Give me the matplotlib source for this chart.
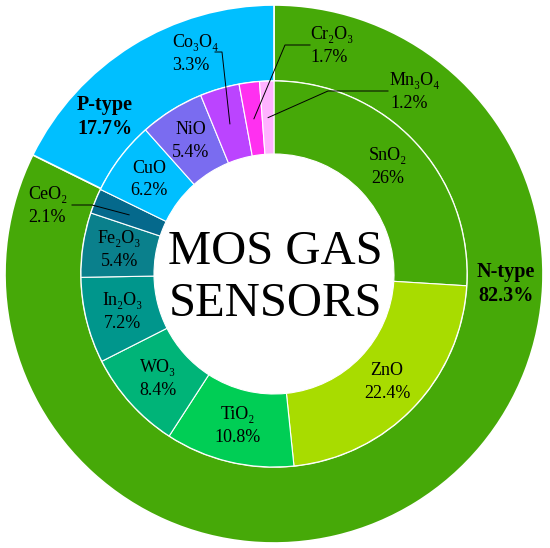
import numpy as np
import matplotlib
matplotlib.use('Agg')
import matplotlib.pyplot as plt

# Times-like face; DejaVu Serif covers the subscript digits if needed
SERIF = ['Liberation Serif', 'DejaVu Serif']
txt_kw = dict(family=SERIF, color='black')

# outer ring: semiconductor type
type_names = ['N-type', 'P-type']
type_pct = [82.3, 17.7]
type_colors = ['#46A908', '#00BFFF']

# inner ring: oxides (clockwise from top)
oxide_names = ['SnO₂', 'ZnO', 'TiO₂', 'WO₃', 'In₂O₃', 'Fe₂O₃', 'CeO₂',
               'CuO', 'NiO', 'Co₃O₄', 'Cr₂O₃', 'Mn₃O₄']
oxide_pct = [26, 22.4, 10.8, 8.4, 7.2, 5.4, 2.1, 6.2, 5.4, 3.3, 1.7, 1.2]
oxide_colors = ['#46A908', '#A8DC00', '#00CE55', '#00B478', '#00968C', '#0A808C', '#05698C',
                '#00BFFF', '#7A6CF0', '#BB44FF', '#FF30F0', '#FFB3FF']

# small slices that get a leader line: text anchor (left, centre y) and knee
callouts = {
    'CeO₂': ((28, 342), [(72, 343), (92, 343)]),
    'Co₃O₄': ((172, 494), [(215, 496), (222, 496)]),
    'Cr₂O₃': ((310, 502), [(310, 503), (285, 503)]),
    'Mn₃O₄': ((390, 456), [(388, 457), (328, 457)]),
}

cx, cy = 274, 274
r_out, r_mid, r_in = 269, 193, 120

fig = plt.figure(figsize=(5.5, 5.48), dpi=100)
ax = fig.add_axes([0, 0, 1, 1])

ax.pie(type_pct, colors=type_colors, startangle=90, counterclock=False,
       radius=r_out, center=(cx, cy),
       wedgeprops=dict(width=r_out - r_mid, edgecolor='white', linewidth=1.2))
wedges, _ = ax.pie(oxide_pct, colors=oxide_colors, startangle=90, counterclock=False,
                   radius=r_mid, center=(cx, cy),
                   wedgeprops=dict(width=r_mid - r_in, edgecolor='white', linewidth=0.8))

# centre title
ax.text(cx + 1, cy - 4, 'MOS GAS\nSENSORS', ha='center', va='center', fontsize=35,
        linespacing=1.22, **txt_kw)

r_lab = (r_mid + r_in) / 2
for w, name, pct in zip(wedges, oxide_names, oxide_pct):
    ang = np.deg2rad((w.theta1 + w.theta2) / 2)
    px, py = cx + r_lab * np.cos(ang), cy + r_lab * np.sin(ang)
    label = name + '\n' + ('%g%%' % pct)
    if name in callouts:
        (tx, ty), knee = callouts[name]
        xs = [k[0] for k in knee] + [px]
        ys = [k[1] for k in knee] + [py]
        ax.plot(xs, ys, color='black', lw=0.7)
        ax.text(tx, ty, label, ha='left', va='center', fontsize=13, linespacing=1.45, **txt_kw)
    else:
        ax.text(px, py, label, ha='center', va='center', fontsize=13, linespacing=1.45, **txt_kw)

ax.text(105, 431, type_names[1] + '\n' + '%g%%' % type_pct[1], ha='center', va='center',
        fontsize=14.5, fontweight='bold', linespacing=1.3, **txt_kw)
ax.text(506, 264, type_names[0] + '\n' + '%g%%' % type_pct[0], ha='center', va='center',
        fontsize=14.5, fontweight='bold', linespacing=1.3, **txt_kw)

ax.set_xlim(0, 550)
ax.set_ylim(0, 548)
ax.set_aspect('equal')
ax.axis('off')

fig.savefig('out.png', dpi=100, facecolor='white')
